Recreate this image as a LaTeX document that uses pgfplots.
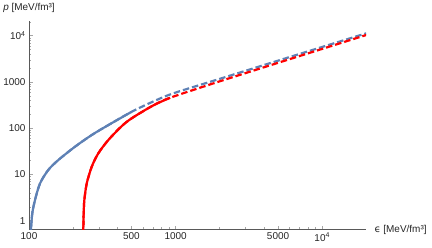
\documentclass[border=0pt]{standalone}
\usepackage{fontspec}
\setmainfont{Liberation Sans}
\newfontfamily\dejavu{DejaVu Sans}
\usepackage{pgfplots}
\pgfplotsset{compat=1.18}
\definecolor{mblue}{rgb}{0.368417,0.506779,0.709798}
\pgfplotstableread{
x y
102.6 0.45
103.2 0.685
105.3 1.45
109.9 2.8
118.9 6.4
135.4 12.5
158.5 20.5
206 39.8
268 71.3
348 117
502 227
700 375
966 568
2000 1167
5167 2983
19970 11270
}\blue
\pgfplotstableread{
x y
102.6 0.45
103.2 0.685
105.3 1.45
109.9 2.8
118.9 6.4
135.4 12.5
158.5 20.5
206 39.8
268 71.3
348 117
502 227
}\bluesolid
\pgfplotstableread{
x y
233.5 0.45
234.7 0.685
236 1.45
238.5 2.8
247.7 6.4
267.9 14.7
297.2 28.7
347.8 55.6
429.3 111
505 166
700 308
917 455
2000 1032
5167 2680
19970 10360
}\redd
\pgfplotstableread{
x y
233.5 0.45
234.7 0.685
236 1.45
238.5 2.8
247.7 6.4
267.9 14.7
297.2 28.7
347.8 55.6
429.3 111
505 166
700 308
917 455
}\redsolid
\begin{document}
\begin{tikzpicture}
\useasboundingbox (-29bp,-18.5bp) rectangle (403bp,229.5bp);
\begin{axis}[
  xmode=log, ymode=log,
  scale only axis, width=337bp, height=208.5bp,
  xmin=100, xmax=19900, ymin=0.645, ymax=20800,
  axis lines=left,
  axis line style={-, draw=black!65, line width=0.7pt},
  tick align=inside,
  major tick length=4bp, minor tick length=2.5bp,
  tick style={black!35, line width=0.5pt},
  xtick={100,500,1000,5000,10000},
  xticklabels={100,500,1000,5000,10\textsuperscript{4}},
  minor xtick={200,300,400,600,700,800,900,2000,3000,4000,6000,7000,8000,9000},
  ytick={1,10,100,1000,10000},
  yticklabels={1,10,100,1000,10\textsuperscript{4}},
  minor ytick={0.7,0.8,0.9,2,3,4,5,6,7,8,9,20,30,40,50,60,70,80,90,200,300,400,500,600,700,800,900,2000,3000,4000,5000,6000,7000,8000,9000,20000},
  ticklabel style={font=\fontsize{10}{12}\selectfont, text=black!85},
  /pgf/number format/assume math mode=true,
  xlabel={{\dejavu ϵ} [MeV/fm³]},
  ylabel={\textit{p} [MeV/fm³]},
  every axis x label/.style={at={(rel axis cs:1,0)}, anchor=west, xshift=5bp, font=\fontsize{10}{12}\selectfont, text=black!85},
  every axis y label/.style={at={(rel axis cs:0,1)}, anchor=center, yshift=13bp, font=\fontsize{10}{12}\selectfont, text=black!85},
]
% full curves dashed, then solid overlay of the low-energy parts
\addplot[mblue, line width=2.2bp, dash pattern=on 6.5bp off 3bp, smooth, tension=0.5] table[x=x,y=y] {\blue};
\addplot[mblue, line width=2.2bp, smooth, tension=0.5] table[x=x,y=y] {\bluesolid};
\addplot[red, line width=2.2bp, dash pattern=on 6.5bp off 3bp, smooth, tension=0.5] table[x=x,y=y] {\redd};
\addplot[red, line width=2.2bp, smooth, tension=0.5] table[x=x,y=y] {\redsolid};
\end{axis}
\end{tikzpicture}
\end{document}
